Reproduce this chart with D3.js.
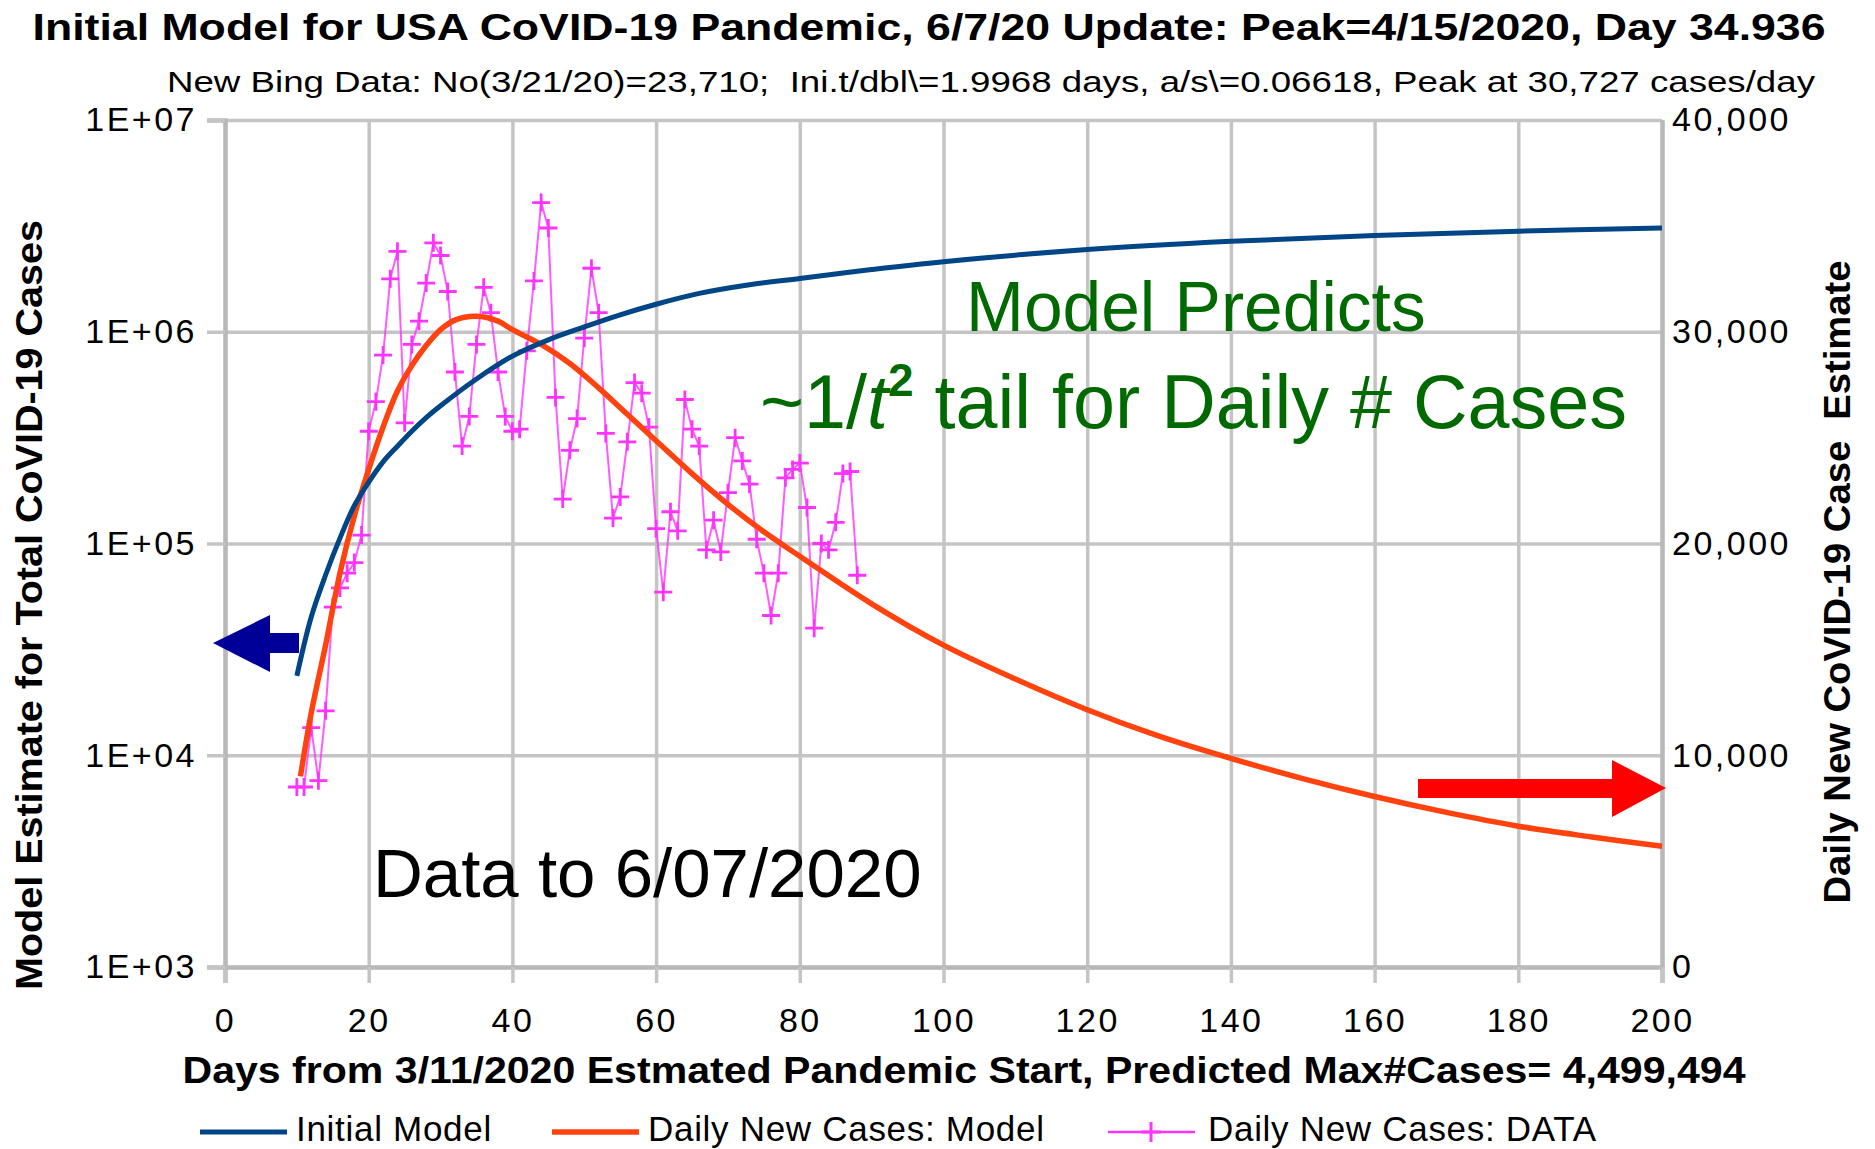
<!DOCTYPE html>
<html>
<head>
<meta charset="utf-8">
<script src="https://cdn.jsdelivr.net/npm/d3@7/dist/d3.min.js"></script>
<style>
  body { margin: 0; background: #fff; }
  text { font-family: "Liberation Sans", Arial, sans-serif; }
</style>
</head>
<body>
<div id="chart"></div>
<script>
// ========= Data ========= //
// daily new cases reported (Bing), day 10 = 3/21/2020 ... day 88 = 6/07/2020
const dataDays = [10, 11, 12, 13, 14, 15, 16, 17, 18, 19,
  20, 21, 22, 23, 24, 25, 26, 27, 28, 29,
  30, 31, 32, 33, 34, 35, 36, 37, 38, 39,
  40, 41, 42, 43, 44, 45, 46, 47, 48, 49,
  50, 51, 52, 53, 54, 55, 56, 57, 58, 59,
  60, 61, 62, 63, 64, 65, 66, 67, 68, 69,
  70, 71, 72, 73, 74, 75, 76, 77, 78, 79,
  80, 81, 82, 83, 84, 85, 86, 87, 88];
const dataCases = [8500, 8500, 11300, 8800, 12100, 17000, 17900, 18600, 19100, 20400,
  25300, 26700, 28900, 32500, 33800, 25700, 29400, 30500, 32300, 34200,
  33600, 31900, 28100, 24600, 26000, 29400, 32100, 30900, 28100, 26000,
  25300, 25400, 29100, 32400, 36100, 34900, 26900, 22100, 24400, 25900,
  29700, 33000, 30900, 25200, 21200, 22200, 24800, 27600, 27100, 25500,
  20700, 17700, 21500, 20600, 26800, 25400, 24600, 19700, 21100, 19600,
  22400, 25000, 23900, 22800, 20200, 18600, 16600, 18600, 23100, 23500,
  23800, 21700, 16000, 20000, 19700, 21000, 23300, 23400, 18500];

// daily new cases, model curve
const dailyModelDays = [10.5, 12, 14, 16, 18, 20, 22, 24, 26, 28, 30, 32, 35, 38, 40, 44, 48, 52, 56, 60,
  65, 70, 75, 80, 90, 100, 110, 120, 130, 140, 150, 160, 170, 180, 190, 200];
const dailyModelCases = [9000, 12000, 15200, 18600, 21300, 23500, 25500, 27200, 28400, 29350, 30100, 30550, 30727, 30500, 30100, 29400, 28500, 27350, 26100, 24850,
  23300, 21850, 20550, 19400, 17150, 15200, 13600, 12150, 10900, 9850, 8900, 8050, 7300, 6650, 6150, 5700];

// initial model, total cases
const totalModelDays = [10, 12, 14, 16, 18, 20, 22, 24, 26, 28, 30, 35, 40, 45, 50, 55, 60, 66, 73, 80,
  90, 100, 120, 140, 160, 180, 200];
const totalModelCases = [23710, 45000, 71000, 106000, 151000, 195000, 243000, 288000, 339000, 393000, 447000, 598000, 767000, 916000, 1054000, 1202000, 1349000, 1517000, 1667000, 1786000,
  1968000, 2143000, 2443000, 2673000, 2851000, 2985000, 3090000];

const xTicks = [0, 20, 40, 60, 80, 100, 120, 140, 160, 180, 200];
const leftTicks = [1e3, 1e4, 1e5, 1e6, 1e7];
const rightTicks = [0, 10000, 20000, 30000, 40000];

const titleText = 'Initial Model for USA CoVID-19 Pandemic, 6/7/20 Update: Peak=4/15/2020, Day 34.936';
const subtitleText = 'New Bing Data: No(3/21/20)=23,710;  Ini.t/dbl\\=1.9968 days, a/s\\=0.06618, Peak at 30,727 cases/day';
const xTitle = 'Days from 3/11/2020 Estmated Pandemic Start, Predicted Max#Cases= 4,499,494';
const leftTitle = 'Model Estimate for Total CoVID-19 Cases';
const rightTitle = 'Daily New CoVID-19 Case  Estimate';
const legendLabels = ['Initial Model', 'Daily New Cases: Model', 'Daily New Cases: DATA'];

// ========= Setup ========= //
const width = 1875, height = 1149;
const plot = { left: 225, right: 1662, top: 120, bottom: 967 };
const blue = '#004586', orange = '#ff420e', pink = '#ff33ff', green = '#006a00';

const svg = d3.select('#chart').append('svg')
  .attr('width', width)
  .attr('height', height);

const x = d3.scaleLinear().domain([0, 200]).range([plot.left, plot.right]);
const yL = d3.scaleLog().domain([1e3, 1e7]).range([plot.bottom, plot.top]);
const yR = d3.scaleLinear().domain([0, 40000]).range([plot.bottom, plot.top]);

// ========= Grid ========= //
const grid = svg.append('g').attr('class', 'grid');
grid.append('g')
  .attr('transform', `translate(0,${plot.bottom})`)
  .call(d3.axisBottom(x).tickValues(xTicks).tickSize(-(plot.bottom - plot.top)).tickFormat(''));
grid.append('g')
  .attr('transform', `translate(${plot.left},0)`)
  .call(d3.axisLeft(yL).tickValues(leftTicks).tickSize(-(plot.right - plot.left)).tickFormat(''));
grid.selectAll('.domain').remove();
grid.selectAll('line').attr('stroke', '#c4c4c4').attr('stroke-width', 3.5);

// ========= Axes ========= //
const axisFont = g => g.selectAll('text')
  .attr('fill', '#000')
  .style('font-size', '34px')
  .style('letter-spacing', '2.5px');

const xAxis = svg.append('g')
  .attr('transform', `translate(0,${plot.bottom})`)
  .call(d3.axisBottom(x).tickValues(xTicks).tickSize(16).tickPadding(25))
  .call(axisFont);

const leftAxis = svg.append('g')
  .attr('transform', `translate(${plot.left},0)`)
  .call(d3.axisLeft(yL).tickValues(leftTicks).tickSize(18).tickPadding(10)
    .tickFormat(d => '1E+' + String(Math.round(Math.log10(d))).padStart(2, '0')))
  .call(axisFont);

const rightAxis = svg.append('g')
  .attr('transform', `translate(${plot.right},0)`)
  .call(d3.axisRight(yR).tickValues(rightTicks).tickSize(0).tickPadding(10)
    .tickFormat(d3.format(',')))
  .call(axisFont);

[xAxis, leftAxis, rightAxis].forEach(a => {
  a.select('.domain').attr('stroke', '#b8b8b8').attr('stroke-width', 4.5);
  a.selectAll('.tick line').attr('stroke', '#c4c4c4').attr('stroke-width', 3.5);
});

// ========= Series ========= //
const dataLine = d3.line().x((d, i) => x(dataDays[i])).y(d => yR(d));
svg.append('path')
  .attr('d', dataLine(dataCases))
  .attr('fill', 'none')
  .attr('stroke', pink)
  .attr('stroke-width', 2)
  .attr('stroke-opacity', 0.8);

const marks = svg.append('g')
  .attr('stroke', pink)
  .attr('stroke-width', 2.8);
dataCases.forEach((v, i) => {
  const cx = x(dataDays[i]), cy = yR(v);
  marks.append('path').attr('d', `M${cx - 9},${cy}H${cx + 9}M${cx},${cy - 9}V${cy + 9}`);
});

const dailyLine = d3.line()
  .x((d, i) => x(dailyModelDays[i]))
  .y(d => yR(d))
  .curve(d3.curveCatmullRom.alpha(0.5));
svg.append('path')
  .attr('d', dailyLine(dailyModelCases))
  .attr('fill', 'none')
  .attr('stroke', orange)
  .attr('stroke-width', 5.5);

const totalLine = d3.line()
  .x((d, i) => x(totalModelDays[i]))
  .y(d => yL(d))
  .curve(d3.curveCatmullRom.alpha(0.5));
svg.append('path')
  .attr('d', totalLine(totalModelCases))
  .attr('fill', 'none')
  .attr('stroke', blue)
  .attr('stroke-width', 5);

// ========= Arrows ========= //
svg.append('path')
  .attr('d', 'M213,643 L270,615 L270,633 L299,633 L299,653 L270,653 L270,672 Z')
  .attr('fill', '#000099');
svg.append('path')
  .attr('d', 'M1666,788 L1612,760 L1612,779 L1418,779 L1418,798 L1612,798 L1612,817 Z')
  .attr('fill', '#ff0000');

// ========= Titles ========= //
svg.append('text')
  .attr('x', 929).attr('y', 40)
  .attr('text-anchor', 'middle')
  .attr('textLength', 1793).attr('lengthAdjust', 'spacingAndGlyphs')
  .style('font-size', '37px').style('font-weight', 'bold')
  .text(titleText);

svg.append('text')
  .attr('x', 167).attr('y', 92)
  .attr('textLength', 1648).attr('lengthAdjust', 'spacingAndGlyphs')
  .style('font-size', '29px')
  .style('white-space', 'pre')
  .text(subtitleText);

svg.append('text')
  .attr('x', 964).attr('y', 1083)
  .attr('text-anchor', 'middle')
  .attr('textLength', 1563).attr('lengthAdjust', 'spacingAndGlyphs')
  .style('font-size', '36px').style('font-weight', 'bold')
  .text(xTitle);

svg.append('text')
  .attr('transform', 'translate(42,605) rotate(-90)')
  .attr('text-anchor', 'middle')
  .attr('textLength', 770).attr('lengthAdjust', 'spacingAndGlyphs')
  .style('font-size', '37px').style('font-weight', 'bold')
  .text(leftTitle);

svg.append('text')
  .attr('transform', 'translate(1850,582) rotate(-90)')
  .attr('text-anchor', 'middle')
  .attr('textLength', 643).attr('lengthAdjust', 'spacingAndGlyphs')
  .style('font-size', '37px').style('font-weight', 'bold')
  .style('white-space', 'pre')
  .text(rightTitle);

// ========= Annotations ========= //
svg.append('text')
  .attr('x', 966).attr('y', 331)
  .attr('fill', green)
  .style('font-size', '69.5px')
  .text('Model Predicts');

const tail = svg.append('text')
  .attr('x', 760).attr('y', 428)
  .attr('fill', green)
  .style('font-size', '75.5px');
tail.append('tspan').text('~1/');
tail.append('tspan').style('font-style', 'italic').text('t');
tail.append('tspan').attr('dy', -32).style('font-size', '46px').style('font-weight', 'bold').text('2');
tail.append('tspan').attr('dy', 32).style('white-space', 'pre').text(' tail for Daily # Cases');

svg.append('text')
  .attr('x', 373).attr('y', 897)
  .attr('fill', '#000')
  .style('font-size', '69px')
  .text('Data to 6/07/2020');

// ========= Legend ========= //
const legendY = 1132;
const legendItems = [
  { x: 200, color: blue, width: 5, mark: false, tx: 296 },
  { x: 552, color: orange, width: 5.5, mark: false, tx: 648 },
  { x: 1108, color: pink, width: 2.5, mark: true, tx: 1208 }
];
const legend = svg.append('g');
legendItems.forEach((d, i) => {
  legend.append('line')
    .attr('x1', d.x).attr('x2', d.x + 87)
    .attr('y1', legendY).attr('y2', legendY)
    .attr('stroke', d.color).attr('stroke-width', d.width);
  if (d.mark) {
    const cx = d.x + 43;
    legend.append('path')
      .attr('d', `M${cx - 10},${legendY}H${cx + 10}M${cx},${legendY - 10}V${legendY + 10}`)
      .attr('stroke', d.color).attr('stroke-width', 3);
  }
  legend.append('text')
    .attr('x', d.tx).attr('y', 1141)
    .style('font-size', '35px')
    .style('letter-spacing', '0.7px')
    .text(legendLabels[i]);
});
</script>
</body>
</html>
